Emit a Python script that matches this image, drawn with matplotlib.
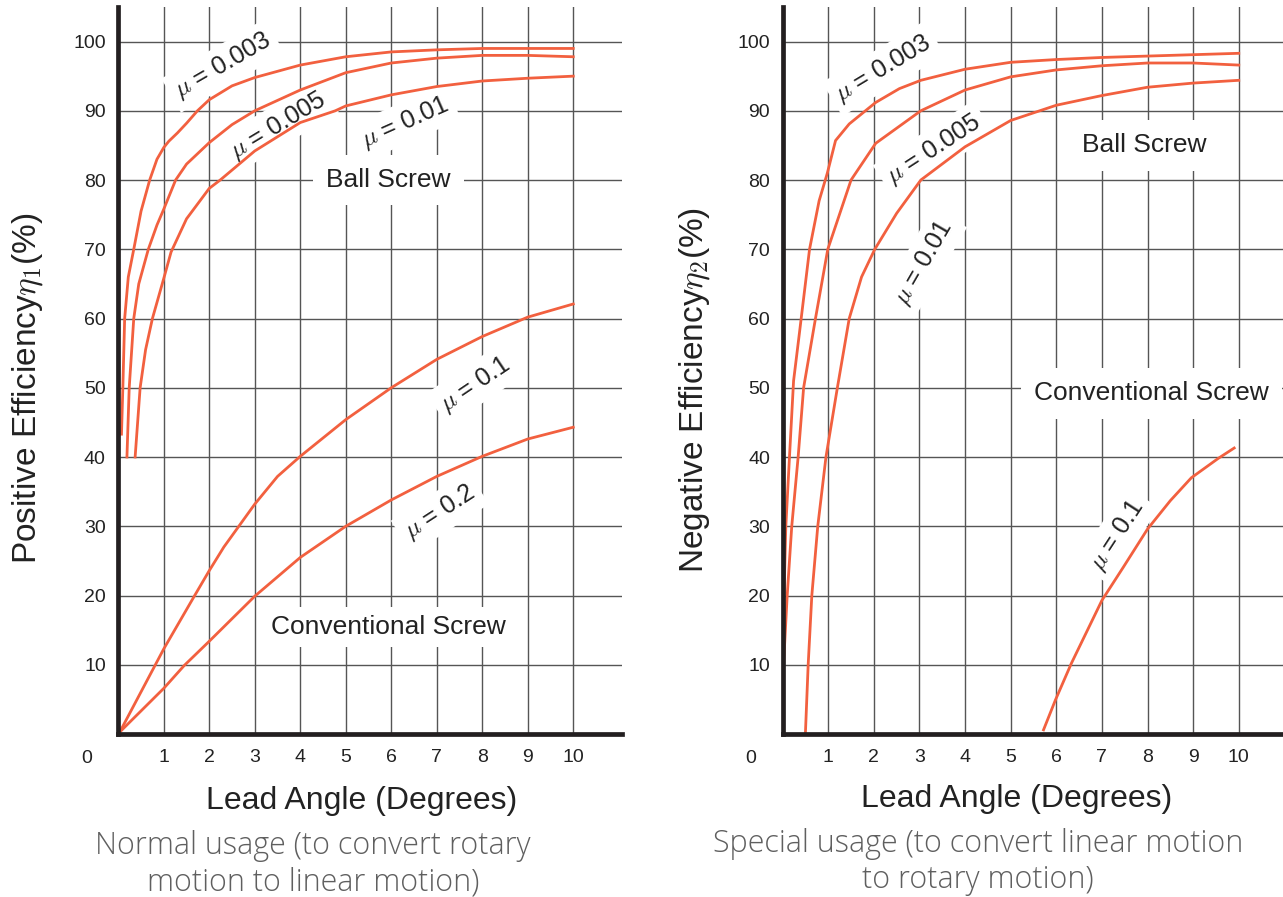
import matplotlib
matplotlib.use('Agg')
import matplotlib.pyplot as plt

plt.rcParams['font.family'] = ['Liberation Sans', 'DejaVu Sans']
plt.rcParams['mathtext.fontset'] = 'cm'

# ---------------- data ----------------
x_ticks = list(range(1, 11))
y_ticks = list(range(10, 101, 10))

# Positive efficiency (normal usage)
pos_003_x = [0.07, 0.10, 0.14, 0.22, 0.34, 0.50, 0.69, 0.85, 1.00, 1.11, 1.30, 1.50, 1.74, 2.00, 2.50, 3.00, 4.00, 5.00, 6.00, 7.00, 8.00, 9.00, 10.0]
pos_003_y = [43.3, 50.0, 60.0, 66.0, 70.0, 75.5, 80.0, 83.0, 84.7, 85.6, 86.8, 88.2, 90.0, 91.6, 93.6, 94.8, 96.6, 97.8, 98.5, 98.8, 99.0, 99.0, 99.0]
pos_005_x = [0.19, 0.24, 0.34, 0.45, 0.66, 0.85, 1.00, 1.26, 1.50, 2.00, 2.50, 3.00, 4.00, 5.00, 6.00, 7.00, 8.00, 9.00, 10.0]
pos_005_y = [40.0, 50.0, 60.0, 65.0, 70.0, 73.5, 75.8, 80.0, 82.3, 85.4, 88.0, 90.0, 93.0, 95.5, 96.9, 97.6, 98.0, 98.0, 97.8]
pos_01_x = [0.37, 0.48, 0.60, 0.75, 1.00, 1.16, 1.50, 2.00, 2.24, 3.00, 4.00, 4.77, 5.00, 6.00, 7.00, 8.00, 9.00, 10.0]
pos_01_y = [40.0, 50.0, 55.5, 60.0, 65.8, 69.6, 74.4, 78.8, 80.0, 84.2, 88.3, 90.0, 90.7, 92.3, 93.5, 94.3, 94.7, 95.0]
pos_1_x = [0.05, 1.00, 1.67, 2.00, 2.32, 3.00, 3.50, 4.00, 5.00, 6.00, 7.00, 8.00, 9.00, 10.0]
pos_1_y = [0.5, 12.3, 19.9, 23.6, 27.0, 33.2, 37.2, 40.1, 45.4, 50.0, 54.1, 57.4, 60.2, 62.1]
pos_2_x = [0.05, 1.00, 1.45, 2.00, 3.00, 4.00, 5.00, 6.00, 7.00, 8.00, 9.00, 10.0]
pos_2_y = [0.4, 6.6, 9.9, 13.4, 19.9, 25.5, 30.0, 33.8, 37.2, 40.1, 42.6, 44.3]

# Negative efficiency (special usage)
neg_003_x = [0.00, 0.03, 0.07, 0.15, 0.24, 0.37, 0.59, 0.80, 0.98, 1.16, 1.46, 2.04, 2.56, 3.03, 4.00, 5.00, 6.00, 7.00, 8.00, 9.00, 10.0]
neg_003_y = [12.0, 20.0, 30.0, 40.0, 51.0, 58.0, 70.0, 77.0, 81.0, 85.7, 88.1, 91.2, 93.2, 94.4, 96.0, 97.0, 97.4, 97.7, 97.9, 98.1, 98.3]
neg_005_x = [0.00, 0.02, 0.10, 0.20, 0.34, 0.46, 0.72, 0.99, 1.50, 2.04, 3.03, 4.00, 5.00, 6.00, 7.00, 8.00, 9.00, 10.0]
neg_005_y = [7.5, 10.0, 20.0, 30.0, 40.0, 50.0, 60.0, 70.0, 80.0, 85.3, 90.0, 93.0, 94.9, 95.9, 96.5, 96.9, 96.9, 96.6]
neg_01_x = [0.50, 0.56, 0.64, 0.77, 0.95, 1.20, 1.46, 1.73, 2.02, 2.50, 3.03, 4.00, 5.00, 6.00, 7.00, 8.00, 9.00, 10.0]
neg_01_y = [0.2, 10.0, 20.0, 30.0, 40.0, 50.0, 60.0, 66.0, 70.0, 75.2, 80.0, 84.8, 88.6, 90.8, 92.2, 93.4, 94.0, 94.4]
neg_1_x = [5.72, 5.98, 6.33, 7.00, 7.47, 8.00, 8.50, 8.96, 9.55, 9.90]
neg_1_y = [0.6, 4.9, 10.2, 19.3, 24.1, 29.6, 33.7, 37.0, 39.8, 41.3]

curve_color = '#f2603f'
grid_color = '#555555'
axis_color = '#231f20'
text_color = '#222222'

fig = plt.figure(figsize=(12.83, 8.97), dpi=100)
ax1 = fig.add_axes([0.0922, 0.1817, 0.3929, 0.8106])
ax2 = fig.add_axes([0.6100, 0.1817, 0.3900, 0.8106])


def setup_axes(ax, xmax):
    ax.set_xlim(0, xmax)
    ax.set_ylim(0, 105)
    ax.set_xticks(x_ticks)
    ax.set_yticks(y_ticks)
    ax.grid(True, color=grid_color, lw=1.0)
    ax.set_axisbelow(True)
    for side in ['top', 'right']:
        ax.spines[side].set_visible(False)
    for side in ['left', 'bottom']:
        ax.spines[side].set_linewidth(3.4)
        ax.spines[side].set_color(axis_color)
    ax.tick_params(length=0, labelsize=14, colors=text_color)
    ax.tick_params(axis='x', pad=11)
    ax.tick_params(axis='y', pad=9)
    ax.text(-0.7, -3.6, '0', ha='center', va='center', fontsize=14,
            color=text_color, clip_on=False)


def label(ax, x, y, s, rot, size=18):
    ax.text(x, y, s, rotation=rot, ha='center', va='center', fontsize=size,
            rotation_mode='anchor', zorder=1.5, color=text_color,
            bbox=dict(boxstyle='square,pad=0.25', fc='white', ec='none'))


def screw_label(ax, x, y, s, pad):
    ax.text(x, y, s, ha='center', va='center', fontsize=19, zorder=1.5,
            color=text_color,
            bbox=dict(boxstyle='square,pad=%s' % pad, fc='white', ec='none'))


setup_axes(ax1, 11.08)
setup_axes(ax2, 10.97)

for xs, ys in [(pos_003_x, pos_003_y), (pos_005_x, pos_005_y), (pos_01_x, pos_01_y),
               (pos_1_x, pos_1_y), (pos_2_x, pos_2_y)]:
    ax1.plot(xs, ys, color=curve_color, lw=2, solid_joinstyle='round', zorder=2)
for xs, ys in [(neg_003_x, neg_003_y), (neg_005_x, neg_005_y), (neg_01_x, neg_01_y),
               (neg_1_x, neg_1_y)]:
    ax2.plot(xs, ys, color=curve_color, lw=2, solid_joinstyle='round', zorder=2)

# curve labels, left
label(ax1, 2.3, 96.5, r'$\mu$ = 0.003', 30)
label(ax1, 3.5, 87.8, r'$\mu$ = 0.005', 31)
label(ax1, 6.3, 88.3, r'$\mu$ = 0.01', 24)
label(ax1, 7.84, 50.5, r'$\mu$ = 0.1', 34)
label(ax1, 7.07, 32.0, r'$\mu$ = 0.2', 33)
screw_label(ax1, 5.94, 80.0, 'Ball Screw', 0.5)
screw_label(ax1, 5.94, 15.4, 'Conventional Screw', 0.3)

# curve labels, right
label(ax2, 2.21, 96.1, r'$\mu$ = 0.003', 31)
label(ax2, 3.31, 84.4, r'$\mu$ = 0.005', 33)
label(ax2, 3.09, 68.0, r'$\mu$ = 0.01', 60)
label(ax2, 7.34, 28.7, r'$\mu$ = 0.1', 57)
screw_label(ax2, 7.93, 85.0, 'Ball Screw', 0.5)
screw_label(ax2, 8.09, 49.2, 'Conventional Screw', 0.5)

W, H = 1283.0, 897.0
fig.text(28 / W, 1 - 388 / H, r'Positive Efficiency$\eta_1$(%)', rotation=90,
         ha='center', va='center', fontsize=24, color=text_color)
fig.text(695 / W, 1 - 390 / H, r'Negative Efficiency$\eta_2$(%)', rotation=90,
         ha='center', va='center', fontsize=24, color=text_color)
fig.text(362 / W, 1 - 801 / H, 'Lead Angle (Degrees)', ha='center', va='center',
         fontsize=23, color=text_color)
fig.text(1017 / W, 1 - 799 / H, 'Lead Angle (Degrees)', ha='center', va='center',
         fontsize=23, color=text_color)
fig.text(313 / W, 1 - 864 / H, 'Normal usage (to convert rotary\nmotion to linear motion)',
         ha='center', va='center', fontsize=22, color='#5f5f5f', family='Open Sans',
         weight='light', linespacing=1.2)
fig.text(978 / W, 1 - 862 / H, 'Special usage (to convert linear motion\nto rotary motion)',
         ha='center', va='center', fontsize=22, color='#5f5f5f', family='Open Sans',
         weight='light', linespacing=1.2)

fig.savefig('out.png', dpi=100)
